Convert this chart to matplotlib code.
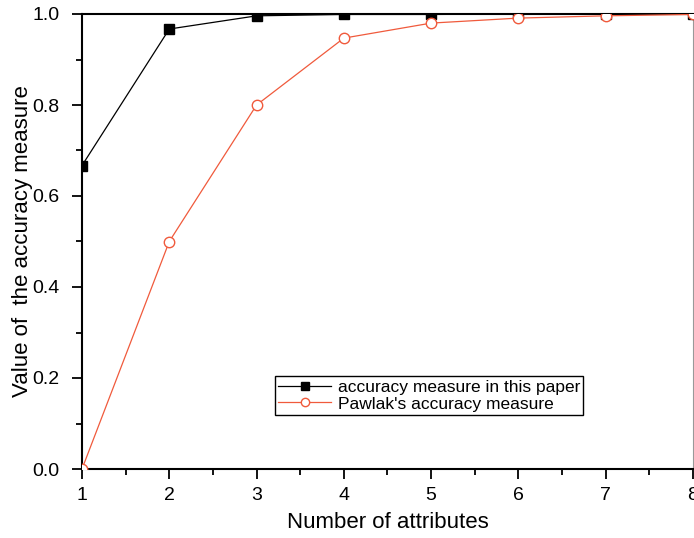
import matplotlib.pyplot as plt
from matplotlib.ticker import MultipleLocator

plt.rcParams['font.family'] = ['Liberation Sans', 'DejaVu Sans']

# Data
attributes = [1, 2, 3, 4, 5, 6, 7, 8]
paper_acc = [0.667, 0.967, 0.996, 0.999, 0.999, 1.0, 1.0, 1.0]
pawlak_acc = [0.0, 0.5, 0.8, 0.947, 0.980, 0.991, 0.996, 0.999]

RED = '#F05A3C'

fig = plt.figure(figsize=(6.94, 5.38), dpi=100)
ax = fig.add_axes([82 / 694, 1 - 469 / 538, 611 / 694, 455 / 538])

ax.plot(attributes, paper_acc, color='black', lw=0.9, marker='s', ms=6.5,
        mfc='black', mec='black', label='accuracy measure in this paper',
        zorder=3)
ax.plot(attributes, pawlak_acc, color=RED, lw=0.9, marker='o', ms=7.5,
        mfc='white', mec=RED, mew=1.0, label="Pawlak's accuracy measure",
        zorder=4)

ax.set_xlim(1, 8)
ax.set_ylim(0, 1.0)
ax.xaxis.set_major_locator(MultipleLocator(1))
ax.xaxis.set_minor_locator(MultipleLocator(0.5))
ax.yaxis.set_major_locator(MultipleLocator(0.2))
ax.yaxis.set_minor_locator(MultipleLocator(0.1))
ax.yaxis.set_major_formatter(plt.FormatStrFormatter('%.1f'))

ax.tick_params(which='major', direction='out', length=7, width=1.3, labelsize=14)
ax.tick_params(which='minor', direction='out', length=4, width=1.3)
ax.tick_params(axis='x', which='major', pad=6)
ax.tick_params(axis='y', which='major', pad=9)
ax.tick_params(top=False, right=False)

for s in ['left', 'bottom', 'top']:
    ax.spines[s].set_linewidth(1.5)
ax.spines['right'].set_color('#999999')
ax.spines['right'].set_linewidth(0.8)

ax.set_xlabel('Number of attributes', fontsize=16)
ax.set_ylabel('Value of  the accuracy measure', fontsize=16)
ax.xaxis.set_label_coords(0.5, -(512 - 469) / 455)
ax.yaxis.set_label_coords(-(82 - 33) / 611, 0.5)

leg = ax.legend(loc='upper left', bbox_to_anchor=(193 / 611, 1 - 362 / 455),
                fontsize=12.5, frameon=True, fancybox=False, edgecolor='black',
                framealpha=1, borderpad=0.2, labelspacing=0.1,
                handlelength=3.0, handletextpad=0.4, borderaxespad=0,
                markerscale=0.8)
leg.get_frame().set_linewidth(1.0)

fig.savefig('out.png', dpi=100)
